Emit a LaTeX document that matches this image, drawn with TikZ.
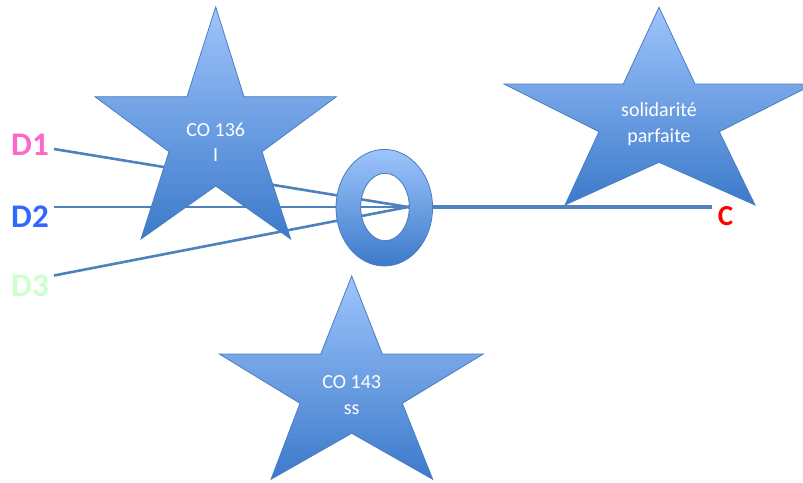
\documentclass[tikz,border=0pt]{standalone}
\usepackage{fontspec}
\setmainfont{Carlito}
\begin{document}
\begin{tikzpicture}[x={(1pt,0)},y={(0,-1pt)},
  starshape/.style={top color=starTop,bottom color=starBot,draw=starEdge,line width=0.8pt,line join=miter},
  link/.style={draw=linkBlue,line width=2.6pt},
  startext/.style={text=white,align=center,font=\fontsize{20}{25.5}\selectfont,inner sep=0pt},
  lab/.style={font=\fontsize{33}{33}\selectfont\bfseries,inner sep=0pt}]
\definecolor{starTop}{RGB}{158,196,252}
\definecolor{starBot}{RGB}{60,122,202}
\definecolor{starEdge}{RGB}{74,126,190}
\definecolor{linkBlue}{RGB}{79,129,189}
\definecolor{dOne}{RGB}{255,102,204}
\definecolor{dTwo}{RGB}{51,102,255}
\definecolor{dThree}{RGB}{204,255,204}
\useasboundingbox (0,0) rectangle (803,482);
\clip (0,0) rectangle (803,482);
% labels
\node[lab,text=dOne] (d1) at (30,145) {D1};
\node[lab,text=dTwo] (d2) at (30,216.5) {D2};
\node[lab,text=dThree] (d3) at (30,286) {D3};
\node[lab,text=red,font=\fontsize{29}{29}\selectfont\bfseries] (c) at (725.5,216.5) {C};
% connector ends
\coordinate (d1e) at (54,149);
\coordinate (d2e) at (54,207);
\coordinate (d3e) at (54,275.5);
\coordinate (hub) at (408,207);
\coordinate (ce) at (712,207);
% connectors
\draw[link] (d1e) -- (hub);
\draw[link] (d2e) -- (hub);
\draw[link] (d3e) -- (hub);
\draw[link,line width=3.6pt] (hub) -- (ce);
% star 1
\path[starshape] (215.7,7) -- (244,96.7) -- (336.4,96.7) -- (262,151.7) -- (290.7,239) -- (215.7,186) -- (141,239) -- (169,151.7) -- (95,96.7) -- (187,96.7) -- cycle;
\node[startext] (s1) at (215.7,142) {CO 136\\I};
% star 2
\path[starshape] (659,7.3) -- (695,84) -- (814,84) -- (719.3,131.7) -- (755,205) -- (659,162.3) -- (565,205) -- (599,131.7) -- (504,84) -- (623.3,84) -- cycle;
\node[startext] (s2) at (659,124) {solidarité\\parfaite};
% star 3
\path[starshape] (351.7,276) -- (382.3,354) -- (483.3,354) -- (402.3,403.3) -- (432.7,479.3) -- (351.7,433.3) -- (271,479.3) -- (300,403.3) -- (219.3,354) -- (320.7,354) -- cycle;
\node[startext] (s3) at (351.7,395) {CO 143\\ss};
% ring
\path[starshape,even odd rule] (384.3,207.7) ellipse [x radius=48.3,y radius=58.3] (385,207) ellipse [x radius=24.3,y radius=33.7];
\end{tikzpicture}
\end{document}
